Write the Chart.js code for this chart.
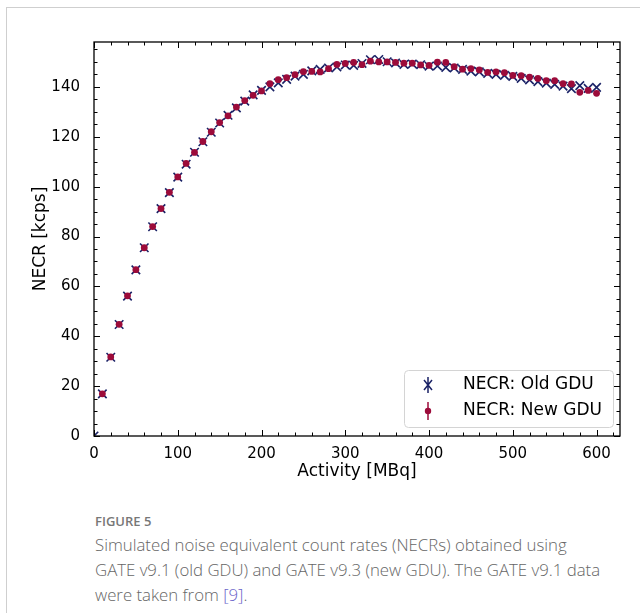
<!DOCTYPE html>
<html>
<head>
<meta charset="utf-8">
<script src="https://cdn.jsdelivr.net/npm/chart.js@4.4.0/dist/chart.umd.min.js"></script>
<style>
  body { margin: 0; background: #fff; width: 640px; height: 613px; overflow: hidden; position: relative; }
  #frame { position: absolute; left: 6px; top: 7px; right: -2px; bottom: -2px; border-left: 1px solid #cfcfcf; border-top: 1px solid #cfcfcf; }
  #wrap { position: absolute; left: 0; top: 0; width: 640px; height: 482px; }
  #fig { position: absolute; left: 95px; top: 512px; font-family: "Open Sans", "Noto Sans", sans-serif; font-size: 13px; font-weight: 600; color: #777; }
  #cap { position: absolute; left: 95px; top: 532px; width: 545px; white-space: nowrap; font-family: "Open Sans", "Noto Sans", sans-serif; font-size: 16.8px; line-height: 25px; color: #666; font-weight: 300; }
  #cap a { color: #6a63c9; text-decoration: none; }
</style>
</head>
<body>
<div id="frame"></div>
<div id="wrap"><canvas id="necrChart" width="640" height="482"></canvas></div>
<div id="fig">FIGURE 5</div>
<div id="cap">Simulated noise equivalent count rates (NECRs) obtained using<br>GATE v9.1 (old GDU) and GATE v9.3 (new GDU). The GATE v9.1 data<br>were taken from <a>[9]</a>.</div>
<script>
// activity in MBq
const activityOld = [0, 10, 20, 30, 40, 50, 60, 70, 80, 90, 100, 110, 120, 130, 140, 150, 160, 170, 180, 190,
  200, 210, 220, 230, 240, 250, 260, 270, 280, 290, 300, 310, 320, 330, 340, 350, 360, 370, 380, 390,
  400, 410, 420, 430, 440, 450, 460, 470, 480, 490, 500, 510, 520, 530, 540, 550, 560, 570, 580, 590, 600];
const activityNew = [10, 20, 30, 40, 50, 60, 70, 80, 90, 100, 110, 120, 130, 140, 150, 160, 170, 180, 190,
  200, 210, 220, 230, 240, 250, 260, 270, 280, 290, 300, 310, 320, 330, 340, 350, 360, 370, 380, 390,
  400, 410, 420, 430, 440, 450, 460, 470, 480, 490, 500, 510, 520, 530, 540, 550, 560, 570, 580, 590, 600];

// NECR in kcps
const necrOld = [0, 16.9, 31.6, 44.7, 56.1, 66.6, 75.5, 83.9, 91.2, 97.6, 103.8, 109.0, 113.8, 118.0, 121.8, 125.5, 128.6, 131.6, 134.3, 136.8,
  138.6, 140.0, 141.6, 143.0, 144.3, 145.0, 146.4, 147.0, 147.6, 148.0, 148.8, 148.6, 149.4, 150.9, 151.0, 150.1, 149.6, 149.0, 149.2, 148.9,
  148.3, 148.4, 147.8, 147.6, 147.0, 146.3, 146.0, 145.4, 145.0, 144.6, 144.2, 143.4, 142.8, 142.1, 141.5, 141.0, 140.3, 139.3, 140.5, 139.4, 139.8];
const necrNew = [16.9, 31.7, 44.8, 56.2, 66.7, 75.5, 84.0, 91.2, 97.7, 103.9, 109.3, 113.7, 118.1, 122.0, 125.7, 128.4, 131.9, 134.5, 136.6,
  138.4, 141.3, 142.9, 143.7, 144.9, 146.1, 146.2, 146.0, 147.3, 149.0, 149.4, 149.8, 148.9, 150.3, 150.0, 150.0, 149.8, 149.5, 149.5, 148.8,
  148.6, 149.9, 149.8, 148.1, 147.1, 147.3, 146.8, 145.8, 146.0, 145.7, 144.6, 144.5, 143.9, 143.4, 142.5, 142.5, 141.3, 141.2, 137.8, 138.6, 137.4];

const seriesNames = ['NECR: Old GDU', 'NECR: New GDU'];
const xTicks = [0, 100, 200, 300, 400, 500, 600];
const yTicks = [0, 20, 40, 60, 80, 100, 120, 140];

const navy = '#1a2266';
const wine = '#9c0b3a';

// inward ticks on all four sides, matplotlib style
const frameTicks = {
    id: 'frameTicks',
    afterDraw(chart) {
        const { ctx, chartArea: a, scales } = chart;
        ctx.save();
        ctx.strokeStyle = '#000';
        ctx.lineWidth = 1;
        for (let v = 0; v <= 628; v += 20) {
            let px = Math.round(scales.x.getPixelForValue(v)) + 0.5;
            let len = v % 100 === 0 ? 6 : 3.5;
            ctx.beginPath();
            ctx.moveTo(px, a.bottom); ctx.lineTo(px, a.bottom - len);
            ctx.moveTo(px, a.top); ctx.lineTo(px, a.top + len);
            ctx.stroke();
        }
        for (let v = 0; v <= 158; v += 5) {
            let py = Math.round(scales.y.getPixelForValue(v)) + 0.5;
            let len = v % 20 === 0 ? 6 : 3.5;
            ctx.beginPath();
            ctx.moveTo(a.left, py); ctx.lineTo(a.left + len, py);
            ctx.moveTo(a.right, py); ctx.lineTo(a.right - len, py);
            ctx.stroke();
        }
        ctx.lineWidth = 1.3;
        ctx.strokeRect(a.left, a.top, a.right - a.left, a.bottom - a.top);
        ctx.restore();
    }
};

function drawIcon(ctx, kind, x, y) {
    ctx.save();
    ctx.lineWidth = 1.5;
    if (kind === 0) {
        ctx.strokeStyle = navy;
        ctx.beginPath();
        ctx.moveTo(x, y - 8); ctx.lineTo(x, y + 8);
        ctx.moveTo(x - 4, y - 5); ctx.lineTo(x + 4, y + 5);
        ctx.moveTo(x - 4, y + 5); ctx.lineTo(x + 4, y - 5);
        ctx.stroke();
    } else {
        ctx.strokeStyle = wine;
        ctx.fillStyle = wine;
        ctx.beginPath();
        ctx.moveTo(x, y - 9); ctx.lineTo(x, y + 9);
        ctx.stroke();
        ctx.beginPath();
        ctx.arc(x, y, 3.2, 0, Math.PI * 2);
        ctx.fill();
    }
    ctx.restore();
}

const boxLegend = {
    id: 'boxLegend',
    afterDatasetsDraw(chart) {
        const { ctx, chartArea: a } = chart;
        const w = 209, h = 57;
        const x0 = a.right - 7 - w, y0 = a.bottom - 9 - h;
        ctx.save();
        ctx.fillStyle = 'rgba(255,255,255,0.85)';
        ctx.strokeStyle = '#d4d4d4';
        ctx.lineWidth = 1;
        ctx.beginPath();
        ctx.roundRect(x0 + 0.5, y0 + 0.5, w, h, 4);
        ctx.fill();
        ctx.stroke();
        ctx.font = '17px "DejaVu Sans"';
        ctx.fillStyle = '#000';
        ctx.textBaseline = 'middle';
        seriesNames.forEach((name, i) => {
            let cy = y0 + 15 + i * 26;
            drawIcon(ctx, i, x0 + 24, cy);
            ctx.fillText(name, x0 + 59, cy);
        });
        ctx.restore();
    }
};

const ctx = document.getElementById('necrChart').getContext('2d');
new Chart(ctx, {
    type: 'scatter',
    data: {
        // new GDU first so its dots sit on top of the old crosses
        datasets: [{
            label: seriesNames[1],
            data: activityNew.map((a, i) => ({ x: a, y: necrNew[i] })),
            pointStyle: 'circle',
            pointRadius: 3.4,
            borderWidth: 0,
            borderColor: wine,
            backgroundColor: wine
        }, {
            label: seriesNames[0],
            data: activityOld.map((a, i) => ({ x: a, y: necrOld[i] })),
            pointStyle: 'crossRot',
            pointRadius: 6,
            borderColor: navy,
            backgroundColor: navy,
            borderWidth: 1.6
        }]
    },
    options: {
        responsive: false,
        animation: false,
        devicePixelRatio: 1,
        layout: { padding: { left: 30, top: 42, right: 20, bottom: 0 } },
        plugins: { legend: { display: false }, tooltip: { enabled: false } },
        scales: {
            x: {
                type: 'linear',
                min: 0,
                max: 628,
                afterFit: s => { s.height = 46; },
                afterBuildTicks: s => { s.ticks = xTicks.map(v => ({ value: v })); },
                grid: { display: false },
                border: { display: false },
                ticks: { color: '#000', font: { family: 'DejaVu Sans', size: 15 }, padding: 1, maxRotation: 0 },
                title: { display: true, text: 'Activity [MBq]', color: '#000', font: { family: 'DejaVu Sans', size: 17 }, padding: { top: 0, bottom: 0 } }
            },
            y: {
                min: 0,
                max: 158,
                afterFit: s => { s.width = 64; },
                afterBuildTicks: s => { s.ticks = yTicks.map(v => ({ value: v })); },
                grid: { display: false },
                border: { display: false },
                ticks: { color: '#000', font: { family: 'DejaVu Sans', size: 15 }, padding: 6 },
                title: { display: true, text: 'NECR [kcps]', color: '#000', font: { family: 'DejaVu Sans', size: 17 }, padding: { top: 0, bottom: 4 } }
            }
        }
    },
    plugins: [frameTicks, boxLegend]
});
</script>
</body>
</html>
